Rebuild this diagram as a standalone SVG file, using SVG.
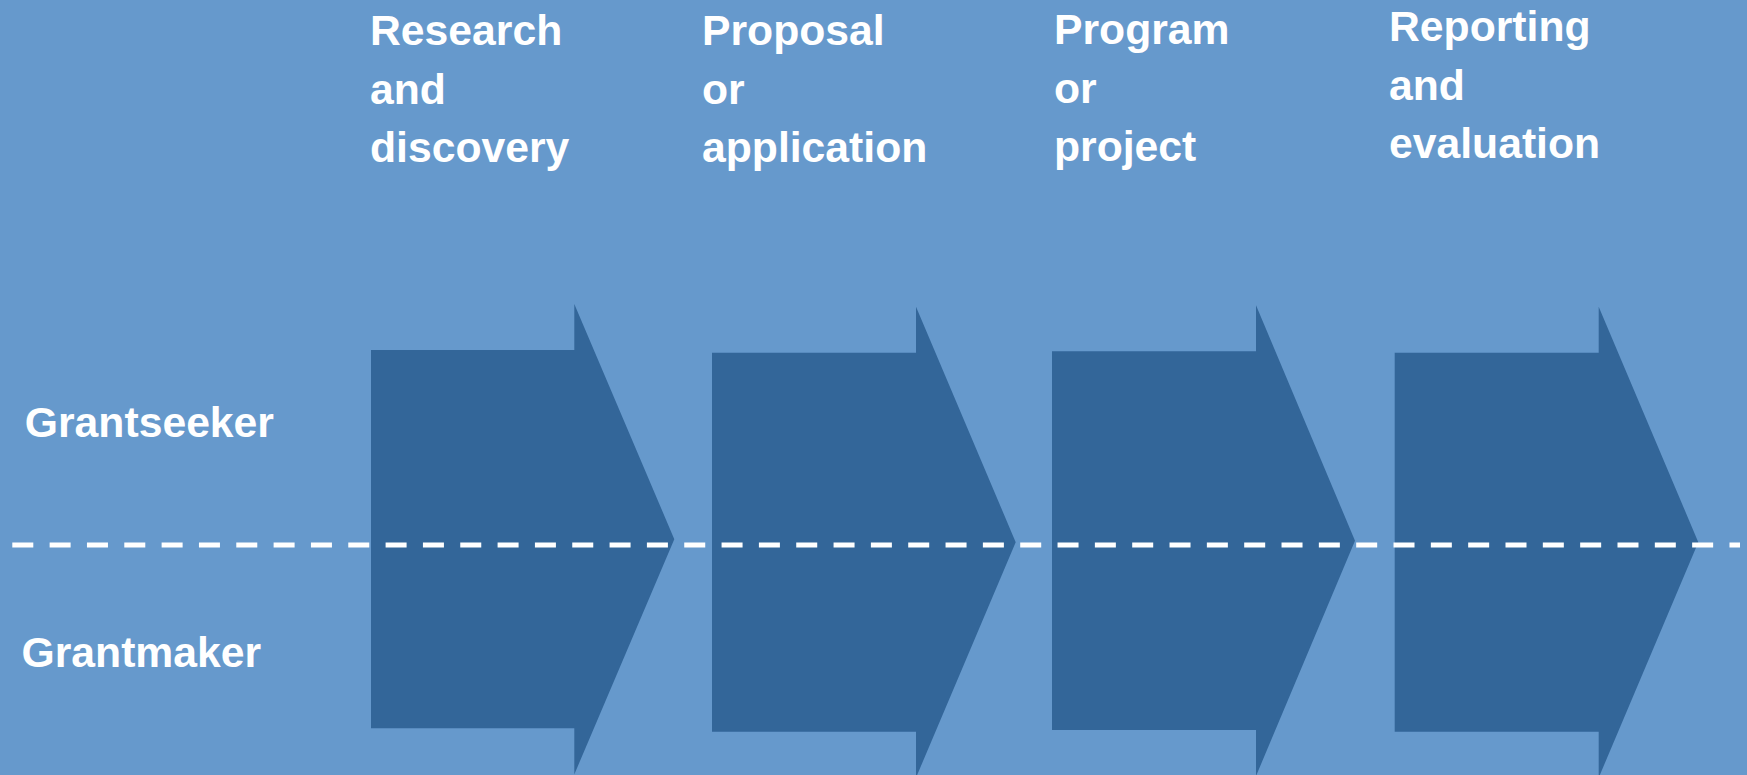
<svg xmlns="http://www.w3.org/2000/svg" width="1747" height="775" viewBox="0 0 1747 775">
<style>
.bg{fill:#6699CC}
.arrow{fill:#336699}
.t{font-family:"Liberation Sans",Arial,sans-serif;font-weight:bold;font-size:42.7px;fill:#FFFFFF}
.divider{stroke:#FFFFFF;stroke-width:5;stroke-dasharray:21 16.33;fill:none}
</style>
<rect class="bg" x="0" y="0" width="1747" height="775"/>
<g id="stage1">
<path class="arrow" d="M371,350 H574.3 V304 L674.3,539.2 L574.3,774.4 V728.3 H371 Z"/>
<text class="t" x="370" y="45">Research</text>
<text class="t" x="370" y="104">and</text>
<text class="t" x="370" y="162">discovery</text>
</g>
<g id="stage2">
<path class="arrow" d="M712,352.7 H916 V306.7 L1015.7,542.2 L916,777.7 V731.7 H712 Z"/>
<text class="t" x="702" y="45">Proposal</text>
<text class="t" x="702" y="104">or</text>
<text class="t" x="702" y="162">application</text>
</g>
<g id="stage3">
<path class="arrow" d="M1052,351.3 H1256 V305.3 L1355,540.7 L1256,776.1 V730 H1052 Z"/>
<text class="t" x="1054" y="44">Program</text>
<text class="t" x="1054" y="102.5">or</text>
<text class="t" x="1054" y="161">project</text>
</g>
<g id="stage4">
<path class="arrow" d="M1394.7,352.7 H1598.7 V306.7 L1698.3,542.2 L1598.7,777.7 V731.7 H1394.7 Z"/>
<text class="t" x="1389" y="40.7">Reporting</text>
<text class="t" x="1389" y="100">and</text>
<text class="t" x="1389" y="158.3">evaluation</text>
</g>
<g id="grantseeker">
<text class="t" x="24.8" y="437.3">Grantseeker</text>
</g>
<g id="grantmaker">
<text class="t" x="21.5" y="667">Grantmaker</text>
</g>
<g id="connectors">
<line class="divider" x1="12.3" y1="545" x2="1740" y2="545"/>
</g>
</svg>
